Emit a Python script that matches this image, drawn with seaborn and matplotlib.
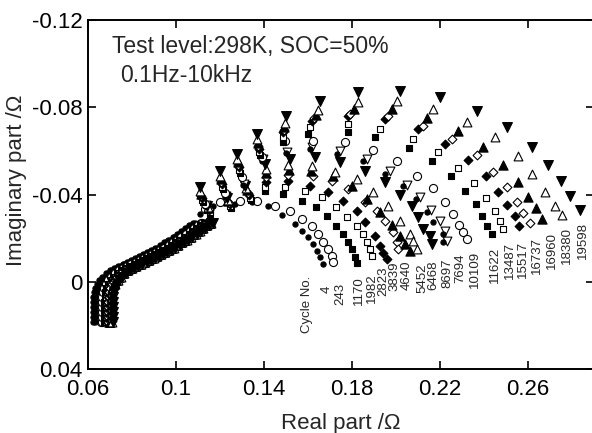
import matplotlib
matplotlib.use("Agg")
import matplotlib.pyplot as plt
import seaborn as sns
import pandas as pd

# cycle numbers, in the order the labels appear under the tails
cycles = ["4", "243", "1170", "1982", "2823", "3839", "4640", "5452", "6468",
          "8697", "7694", "10109", "11622", "13487", "15517", "16737", "16960",
          "18380", "19598"]

# high-frequency branch (shared by all cycles, upper edge of the band)
hf_re = [0.0623, 0.0623, 0.0623, 0.0623, 0.0623, 0.0625, 0.0627, 0.0632, 0.0641, 0.0652,
         0.0664, 0.0682, 0.0700, 0.0718, 0.0736, 0.0757, 0.0777, 0.0795, 0.0814, 0.0832,
         0.0850, 0.0868, 0.0886, 0.0905, 0.0927, 0.0945, 0.0964, 0.0985, 0.1005, 0.1023,
         0.1041, 0.1059, 0.1077]
hf_im = [0.0183, 0.0160, 0.0137, 0.0115, 0.0092, 0.0069, 0.0048, 0.0028, 0.0009, -0.0008,
         -0.0023, -0.0040, -0.0053, -0.0064, -0.0073, -0.0082, -0.0091, -0.0100, -0.0110, -0.0119,
         -0.0128, -0.0137, -0.0146, -0.0157, -0.0169, -0.0180, -0.0192, -0.0205, -0.0219, -0.0233,
         -0.0247, -0.0258, -0.0270]
# how far right each cycle sits in that band
hf_shift = [0.0, 0.0036, 0.005, 0.0055, 0.006, 0.0065, 0.0072, 0.0078, 0.0082, 0.0085,
            0.0008, 0.004, 0.0052, 0.0058, 0.0064, 0.007, 0.0078, 0.0084, 0.009]

# mid/low frequency arcs, one pair per cycle
re_c4 = [0.1109, 0.1168, 0.1268, 0.1345, 0.1418, 0.1482, 0.1541, 0.1573, 0.1600, 0.1623, 0.1641, 0.1655, 0.1668]
im_c4 = [-0.0311, -0.0347, -0.0357, -0.0366, -0.0347, -0.0306, -0.0265, -0.0233, -0.0206, -0.0174, -0.0142, -0.0114, -0.0082]
re_c243 = [0.1132, 0.1200, 0.1291, 0.1368, 0.1450, 0.1518, 0.1573, 0.1618, 0.1645, 0.1668, 0.1691, 0.1709, 0.1714]
im_c243 = [-0.0334, -0.0366, -0.0370, -0.0370, -0.0347, -0.0325, -0.0288, -0.0256, -0.0219, -0.0183, -0.0151, -0.0119, -0.0091]
re_c1170 = [0.1155, 0.1250, 0.1341, 0.1405, 0.1486, 0.1573, 0.1636, 0.1686, 0.1727, 0.1759, 0.1782, 0.1800, 0.1814, 0.1823]
im_c1170 = [-0.0311, -0.0338, -0.0375, -0.0416, -0.0402, -0.0370, -0.0343, -0.0302, -0.0256, -0.0219, -0.0183, -0.0151, -0.0114, -0.0087]
re_c1982 = [0.1155, 0.1245, 0.1336, 0.1405, 0.1495, 0.1586, 0.1664, 0.1727, 0.1777, 0.1823, 0.1850, 0.1868, 0.1882, 0.1891]
im_c1982 = [-0.0320, -0.0347, -0.0384, -0.0434, -0.0434, -0.0416, -0.0389, -0.0343, -0.0297, -0.0256, -0.0219, -0.0183, -0.0151, -0.0119]
re_c2823 = [0.1150, 0.1245, 0.1332, 0.1409, 0.1509, 0.1609, 0.1691, 0.1759, 0.1823, 0.1859, 0.1905, 0.1927, 0.1941, 0.1959]
im_c2823 = [-0.0329, -0.0357, -0.0398, -0.0457, -0.0462, -0.0439, -0.0411, -0.0370, -0.0325, -0.0274, -0.0210, -0.0165, -0.0133, -0.0105]
re_c3839 = [0.1150, 0.1241, 0.1327, 0.1409, 0.1509, 0.1623, 0.1709, 0.1782, 0.1859, 0.1914, 0.1950, 0.1986, 0.2005, 0.2009]
im_c3839 = [-0.0334, -0.0361, -0.0407, -0.0480, -0.0489, -0.0485, -0.0462, -0.0425, -0.0366, -0.0325, -0.0279, -0.0229, -0.0183, -0.0151]
re_c4640 = [0.1145, 0.1236, 0.1323, 0.1409, 0.1514, 0.1614, 0.1714, 0.1800, 0.1868, 0.1927, 0.1982, 0.2018, 0.2041, 0.2064]
im_c4640 = [-0.0338, -0.0370, -0.0421, -0.0498, -0.0512, -0.0507, -0.0485, -0.0439, -0.0379, -0.0320, -0.0261, -0.0210, -0.0174, -0.0142]
re_c5452 = [0.1145, 0.1236, 0.1318, 0.1409, 0.1509, 0.1618, 0.1723, 0.1823, 0.1895, 0.1964, 0.2018, 0.2064, 0.2077, 0.2095]
im_c5452 = [-0.0343, -0.0375, -0.0430, -0.0517, -0.0535, -0.0530, -0.0503, -0.0471, -0.0411, -0.0347, -0.0279, -0.0219, -0.0187, -0.0151]
re_c6468 = [0.1141, 0.1232, 0.1314, 0.1405, 0.1518, 0.1632, 0.1745, 0.1859, 0.1950, 0.2018, 0.2073, 0.2100, 0.2123, 0.2155, 0.2164]
im_c6468 = [-0.0347, -0.0384, -0.0439, -0.0539, -0.0562, -0.0571, -0.0549, -0.0507, -0.0457, -0.0398, -0.0347, -0.0297, -0.0242, -0.0210, -0.0174]
re_c8697 = [0.1136, 0.1227, 0.1309, 0.1395, 0.1505, 0.1618, 0.1745, 0.1868, 0.1973, 0.2050, 0.2109, 0.2159, 0.2200, 0.2223, 0.2232]
im_c8697 = [-0.0352, -0.0393, -0.0448, -0.0562, -0.0594, -0.0617, -0.0599, -0.0562, -0.0507, -0.0443, -0.0389, -0.0329, -0.0279, -0.0233, -0.0187]
re_c7694 = [0.1132, 0.1223, 0.1305, 0.1391, 0.1500, 0.1609, 0.1732, 0.1850, 0.1950, 0.2032, 0.2091, 0.2141, 0.2168, 0.2214, 0.2214]
im_c7694 = [-0.0347, -0.0389, -0.0443, -0.0553, -0.0590, -0.0608, -0.0585, -0.0553, -0.0494, -0.0439, -0.0379, -0.0320, -0.0274, -0.0219, -0.0183]
re_c10109 = [0.1132, 0.1223, 0.1300, 0.1391, 0.1495, 0.1623, 0.1768, 0.1895, 0.2005, 0.2095, 0.2168, 0.2223, 0.2259, 0.2286, 0.2305, 0.2323]
im_c10109 = [-0.0357, -0.0407, -0.0480, -0.0571, -0.0645, -0.0645, -0.0640, -0.0603, -0.0553, -0.0485, -0.0430, -0.0366, -0.0311, -0.0261, -0.0229, -0.0197]
re_c11622 = [0.1123, 0.1214, 0.1291, 0.1382, 0.1486, 0.1600, 0.1782, 0.1905, 0.2059, 0.2164, 0.2250, 0.2314, 0.2364, 0.2391, 0.2414, 0.2436]
im_c11622 = [-0.0366, -0.0425, -0.0498, -0.0581, -0.0640, -0.0677, -0.0686, -0.0663, -0.0613, -0.0553, -0.0485, -0.0416, -0.0357, -0.0302, -0.0256, -0.0219]
re_c13487 = [0.1118, 0.1209, 0.1286, 0.1377, 0.1486, 0.1609, 0.1782, 0.1927, 0.2077, 0.2191, 0.2282, 0.2355, 0.2409, 0.2450, 0.2473, 0.2486]
im_c13487 = [-0.0375, -0.0434, -0.0512, -0.0594, -0.0663, -0.0709, -0.0722, -0.0699, -0.0654, -0.0594, -0.0521, -0.0453, -0.0384, -0.0325, -0.0279, -0.0242]
re_c15517 = [0.1118, 0.1209, 0.1286, 0.1377, 0.1486, 0.1618, 0.1782, 0.1950, 0.2100, 0.2223, 0.2327, 0.2409, 0.2464, 0.2505, 0.2541, 0.2559]
im_c15517 = [-0.0384, -0.0448, -0.0526, -0.0608, -0.0686, -0.0736, -0.0759, -0.0745, -0.0699, -0.0631, -0.0558, -0.0485, -0.0411, -0.0352, -0.0302, -0.0256]
re_c16737 = [0.1114, 0.1205, 0.1282, 0.1373, 0.1491, 0.1627, 0.1791, 0.1964, 0.2123, 0.2255, 0.2368, 0.2441, 0.2505, 0.2550, 0.2577, 0.2609]
im_c16737 = [-0.0393, -0.0457, -0.0535, -0.0622, -0.0695, -0.0750, -0.0768, -0.0759, -0.0713, -0.0654, -0.0581, -0.0503, -0.0434, -0.0366, -0.0315, -0.0270]
re_c16960 = [0.1114, 0.1205, 0.1282, 0.1373, 0.1491, 0.1636, 0.1809, 0.1982, 0.2141, 0.2282, 0.2395, 0.2486, 0.2555, 0.2600, 0.2636, 0.2664]
im_c16960 = [-0.0402, -0.0471, -0.0549, -0.0635, -0.0709, -0.0763, -0.0791, -0.0791, -0.0750, -0.0690, -0.0617, -0.0535, -0.0457, -0.0389, -0.0338, -0.0288]
re_c18380 = [0.1109, 0.1200, 0.1277, 0.1368, 0.1495, 0.1645, 0.1827, 0.2005, 0.2168, 0.2323, 0.2450, 0.2555, 0.2618, 0.2677, 0.2723, 0.2755]
im_c18380 = [-0.0416, -0.0485, -0.0562, -0.0654, -0.0727, -0.0786, -0.0823, -0.0827, -0.0791, -0.0731, -0.0663, -0.0576, -0.0494, -0.0411, -0.0347, -0.0306]
re_c19598 = [0.1109, 0.1200, 0.1277, 0.1368, 0.1500, 0.1655, 0.1827, 0.2018, 0.2200, 0.2368, 0.2505, 0.2618, 0.2691, 0.2750, 0.2791, 0.2836]
im_c19598 = [-0.0434, -0.0507, -0.0585, -0.0677, -0.0759, -0.0827, -0.0869, -0.0873, -0.0846, -0.0782, -0.0709, -0.0617, -0.0535, -0.0462, -0.0393, -0.0329]

arc_re = [re_c4, re_c243, re_c1170, re_c1982, re_c2823, re_c3839, re_c4640, re_c5452, re_c6468,
          re_c8697, re_c7694, re_c10109, re_c11622, re_c13487, re_c15517, re_c16737, re_c16960,
          re_c18380, re_c19598]
arc_im = [im_c4, im_c243, im_c1170, im_c1982, im_c2823, im_c3839, im_c4640, im_c5452, im_c6468,
          im_c8697, im_c7694, im_c10109, im_c11622, im_c13487, im_c15517, im_c16737, im_c16960,
          im_c18380, im_c19598]

# where the rotated cycle labels sit (top end of each label)
label_re = [0.1686, 0.1745, 0.1832, 0.1891, 0.1941, 0.1995, 0.2050, 0.2118, 0.2168, 0.2232,
            0.2291, 0.2359, 0.2450, 0.2518, 0.2577, 0.2641, 0.2709, 0.2777, 0.2850]
label_im = [0.0018, 0.0005, -0.0023, -0.0037, -0.0069, -0.0091, -0.0096, -0.0082, -0.0096, -0.0105,
            -0.0128, -0.0142, -0.0160, -0.0183, -0.0187, -0.0206, -0.0229, -0.0251, -0.0274]

xticks = [0.06, 0.10, 0.14, 0.18, 0.22, 0.26]
xtick_labels = ["0.06", "0.1", "0.14", "0.18", "0.22", "0.26"]
yticks = [-0.12, -0.08, -0.04, 0.0, 0.04]
ytick_labels = ["-0.12", "-0.08", "-0.04", "0", "0.04"]

# marker, filled, size -- repeats every 10 cycles
styles = [("o", True, 14), ("o", False, 34), ("s", True, 20), ("s", False, 22),
          ("D", True, 20), ("D", False, 20), ("^", True, 44), ("^", False, 40),
          ("v", True, 50), ("v", False, 40)]

sns.set_style("ticks")
plt.rcParams["font.family"] = ["Liberation Sans", "DejaVu Sans"]
plt.rcParams["axes.unicode_minus"] = False

fig = plt.figure(figsize=(5.92, 4.33), dpi=100)
ax = fig.add_axes([0.1486, 0.1478, 0.8547, 0.806])

for i, cyc in enumerate(cycles):
    re = [v + hf_shift[i] for v in hf_re] + arc_re[i]
    im = hf_im + arc_im[i]
    df = pd.DataFrame({"re": re, "im": im})
    m, filled, size = styles[i % 10]
    sns.scatterplot(data=df, x="re", y="im", ax=ax, marker=m, s=size,
                    color="black" if filled else "white", edgecolor="black",
                    linewidth=0.8, legend=False, clip_on=False)

ax.set_xlim(0.06, 0.29)
ax.set_ylim(0.04, -0.12)
ax.set_xticks(xticks)
ax.set_xticklabels(xtick_labels)
ax.set_yticks(yticks)
ax.set_yticklabels(ytick_labels)
ax.tick_params(direction="in", top=True, right=True, length=6, width=1.2,
               labelsize=16, colors="black")
ax.tick_params(axis="x", pad=7)
ax.tick_params(axis="y", pad=4)
for sp in ax.spines.values():
    sp.set_linewidth(1.4)
    sp.set_color("black")

ax.set_xlabel("Real part /Ω", fontsize=16)
ax.set_ylabel("Imaginary part /Ω", fontsize=16)
ax.xaxis.set_label_coords(0.5, -0.125)
ax.yaxis.set_label_coords(-0.12, 0.54)

ax.text(0.047, 0.905, "Test level:298K, SOC=50%", transform=ax.transAxes,
        fontsize=16.5, va="baseline")
ax.text(0.063, 0.822, "0.1Hz-10kHz", transform=ax.transAxes,
        fontsize=16.5, va="baseline")

ax.text(0.1595, -0.0027, "Cycle No.", rotation=90, ha="center", va="top", fontsize=9.5)
for cyc, lx, ly in zip(cycles, label_re, label_im):
    ax.text(lx, ly, cyc, rotation=90, ha="center", va="top", fontsize=9.5)

fig.savefig("out.png", dpi=100)
